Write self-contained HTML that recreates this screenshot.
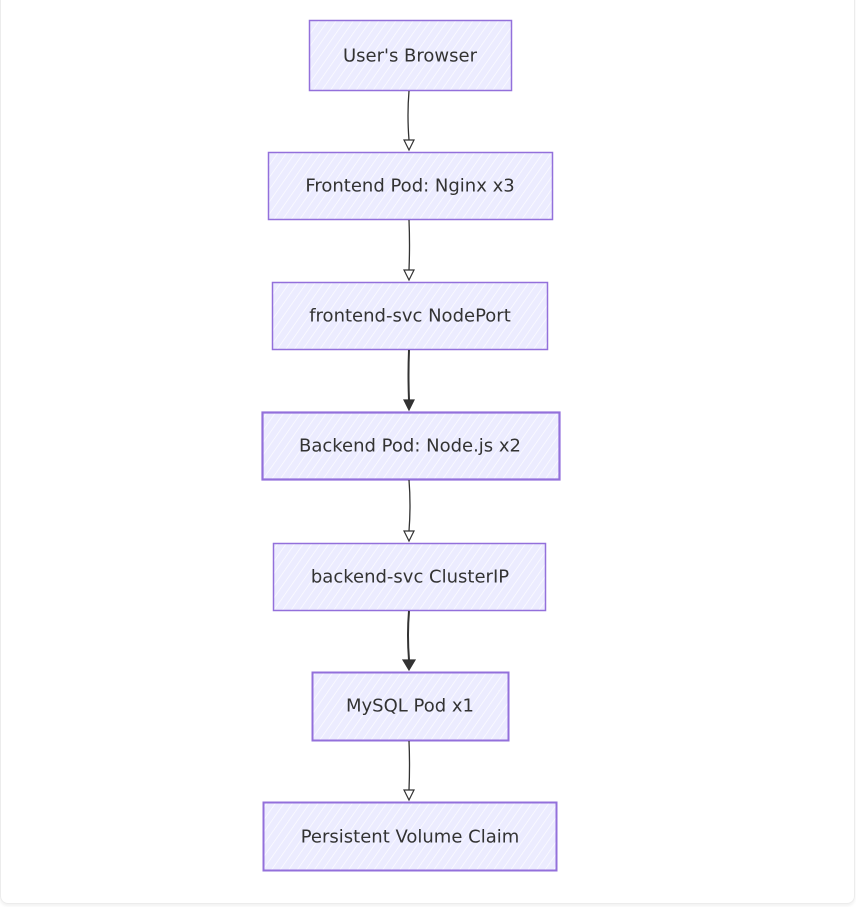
<!DOCTYPE html>
<html><head><meta charset="utf-8"><style>
html,body{margin:0;padding:0;background:#fff;width:856px;height:907px;overflow:hidden}
.c{position:absolute;left:0;top:-20px;width:853px;height:922px;border:1px solid #ececec;border-radius:8px;box-shadow:0 2px 3px rgba(0,0,0,0.06)}
svg{position:absolute;left:0;top:0}
text{font-family:"DejaVu Sans","Liberation Sans",sans-serif;font-size:18px;fill:#333;text-anchor:middle;dominant-baseline:central}
</style></head><body>
<div class="c"></div>
<svg width="856" height="907" viewBox="0 0 856 907">
<defs>
<pattern id="h" width="7" height="7" patternUnits="userSpaceOnUse" patternTransform="rotate(35)">
<rect width="7" height="7" fill="#ececff"/><line x1="0" y1="0" x2="0" y2="7" stroke="#fff" stroke-width="1.4" opacity="0.9"/>
</pattern>
</defs>
<g stroke="#9370db" stroke-width="1.5" fill="url(#h)">
<rect x="309.5" y="20.5" width="202" height="70"/>
<rect x="268.5" y="152.5" width="284" height="67"/>
<rect x="272.5" y="282.5" width="275" height="67"/>
<rect x="262.5" y="412.5" width="297" height="67" stroke-width="2.2"/>
<rect x="273.5" y="543.5" width="272" height="67"/>
<rect x="312.5" y="672.5" width="196" height="68" stroke-width="2"/>
<rect x="263.5" y="802.5" width="293" height="68" stroke-width="2"/>
</g>
<g stroke="#333" stroke-width="1.3" fill="none">
<path d="M409 91 Q407 115 409 140"/>
<path d="M409 220 Q410 245 409 270"/>
<path d="M409 350 Q408 375 409 400" stroke-width="2"/>
<path d="M409 480 Q411 505 409 531"/>
<path d="M409 611 Q407 635 409 660" stroke-width="2"/>
<path d="M409 741 Q410 765 409 790"/>
</g>
<g stroke="#333" stroke-width="1.2" fill="#fff">
<path d="M404 140 L414 140 L409 150 Z"/>
<path d="M404 270 L414 270 L409 280 Z"/>
<path d="M404 400 L414 400 L409 410 Z" fill="#333"/>
<path d="M404 531 L414 531 L409 541 Z"/>
<path d="M403 660 L415 660 L409 670 Z" fill="#333"/>
<path d="M404 790 L414 790 L409 800 Z"/>
</g>
<text x="410" y="56">User's Browser</text>
<text x="410" y="186">Frontend Pod: Nginx x3</text>
<text x="410" y="316">frontend-svc NodePort</text>
<text x="410" y="446">Backend Pod: Node.js x2</text>
<text x="410" y="577">backend-svc ClusterIP</text>
<text x="410" y="706">MySQL Pod x1</text>
<text x="410" y="837">Persistent Volume Claim</text>
</svg>
</body></html>
